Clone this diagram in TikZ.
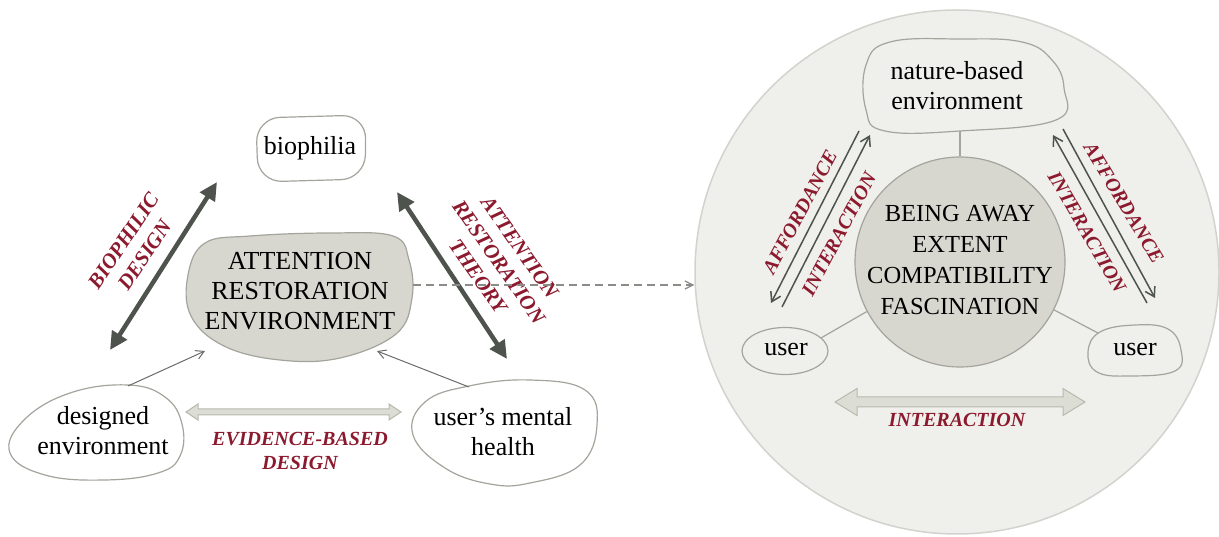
\documentclass[tikz,border=0pt]{standalone}
\usepackage{fontspec}
\setmainfont{Liberation Serif}
\usetikzlibrary{arrows.meta,calc,shapes.geometric}

\definecolor{labelred}{HTML}{8C1A2E}
\definecolor{arrowgray}{HTML}{4E534D}
\definecolor{blobline}{HTML}{A3A49C}
\definecolor{arefill}{HTML}{D7D7CF}
\definecolor{ringfill}{HTML}{EFF0EC}
\definecolor{ringline}{HTML}{D2D3CD}
\definecolor{hollowfill}{HTML}{DCDDD4}
\definecolor{hollowline}{HTML}{B8BAAD}
\definecolor{dashgray}{HTML}{8A8C88}

\tikzset{
  blob/.style={draw=blobline, line width=1.2pt},
  txt/.style={align=center, inner sep=0pt, font=\fontsize{26}{30}\selectfont},
  coretxt/.style={align=center, inner sep=0pt, font=\fontsize{24.5}{31}\selectfont},
  lbl/.style={text=labelred, align=center, inner sep=0pt,
              font=\fontsize{20}{24}\selectfont\bfseries\itshape},
  biglbl/.style={lbl, font=\fontsize{21}{25.5}\selectfont\bfseries\itshape},
  heavyarrow/.style={draw=arrowgray, line width=4.5pt,
     {Triangle[length=18pt,width=17pt]}-{Triangle[length=18pt,width=17pt]}},
  pairarrow/.style={draw=arrowgray, line width=1.5pt,
     -{Straight Barb[length=9pt,width=11pt]}},
  feedarrow/.style={draw=arrowgray!85, line width=1pt,
     -{Straight Barb[length=8pt,width=9pt]}},
  link/.style={draw=blobline, line width=1.2pt},
  hollow/.style={fill=hollowfill, draw=hollowline, line width=1pt, line join=miter},
}

\begin{document}
\begin{tikzpicture}[x=1pt, y=-1pt]
\useasboundingbox (0,0) rectangle (1219,537);

% ---------- right panel: the restorative setting ----------
\node[circle, minimum size=524pt, inner sep=0pt, fill=ringfill, draw=ringline,
      line width=1.5pt] (ring) at (957,272) {};

% nature-based environment
\draw[blob, fill=ringfill] plot[smooth cycle, tension=0.7] coordinates
  {(890,42) (960,39) (1022,42) (1052,60) (1064,88) (1056,120) (960,131)
   (885,131) (866,110) (866,65)};
\node[txt] (nature) at (957,86) {nature-based\\environment};

% core circle with the four components
\node[circle, minimum size=210pt, inner sep=0pt, fill=arefill, draw=blobline,
      line width=1.2pt] (core) at (960,262) {};
\node[coretxt] (coretxt) at (960,260) {BEING AWAY\\EXTENT\\COMPATIBILITY\\FASCINATION};

% users
\node[ellipse, minimum width=86pt, minimum height=47pt, inner sep=0pt,
      fill=ringfill, draw=blobline, line width=1.2pt] (userL) at (785,351) {};
\node[txt] (userLtxt) at (786,350) {user};
\draw[blob, fill=ringfill] plot[smooth cycle, tension=0.7] coordinates
  {(1100,332) (1135,325) (1168,329) (1181,350) (1175,371) (1130,376)
   (1097,372) (1088,352)};
\node[txt] (userRtxt) at (1135,350) {user};

% plain links
\coordinate (natureB) at (960,131);
\coordinate (userRtop) at (1098,333);
\draw[link] (natureB) -- (core.north);
\draw[link] (core.208) -- (userL.20);
\draw[link] (core.-27) -- (userRtop);

% affordance / interaction pairs
\coordinate (pLa1) at (859,131); \coordinate (pLa2) at (771,303);
\coordinate (pLb1) at (782,307); \coordinate (pLb2) at (870,135);
\coordinate (pRa1) at (1147,303); \coordinate (pRa2) at (1053,135);
\coordinate (pRb1) at (1063,129); \coordinate (pRb2) at (1155,298);
\draw[pairarrow] (pLa1) -- (pLa2);
\draw[pairarrow] (pLb1) -- (pLb2);
\draw[pairarrow] (pRa1) -- (pRa2);
\draw[pairarrow] (pRb1) -- (pRb2);
\node[lbl, rotate=62] (affL) at (800,212) {AFFORDANCE};
\node[lbl, rotate=62] (intL) at (839,234) {INTERACTION};
\node[lbl, rotate=-59] (affR) at (1124,203) {AFFORDANCE};
\node[lbl, rotate=-60] (intR) at (1087,232) {INTERACTION};

% user-to-user interaction
\draw[hollow] (835,402) -- (857,388.5) -- (857,397) -- (1063,397) -- (1063,388.5)
  -- (1085,402) -- (1063,415.5) -- (1063,407) -- (857,407) -- (857,415.5) -- cycle;
\node[lbl] (intB) at (957,420) {INTERACTION};

% ---------- left panel: the framework ----------
% biophilia
\draw[blob, fill=white, rounded corners=24pt]
  (256,118) -- (366,115) -- (365,179) -- (258,182) -- cycle;
\node[txt] (bio) at (310,148) {biophilia};

% attention restoration environment
\draw[blob, fill=arefill] plot[smooth cycle, tension=0.65] coordinates
  {(205,243) (250,236) (330,233) (393,236) (409,260) (412,298) (396,334)
   (340,358) (280,360) (224,346) (191,316) (188,275)};
\node[txt] (are) at (300,291) {ATTENTION\\RESTORATION\\ENVIRONMENT};

% designed environment
\draw[blob, fill=white] plot[smooth cycle, tension=0.7] coordinates
  {(128,385) (165,397) (182,424) (180,456) (158,473) (105,480) (45,475)
   (10,453) (24,420) (70,393)};
\node[txt] (des) at (103,431) {designed\\environment};

% user's mental health
\draw[blob, fill=white] plot[smooth cycle, tension=0.7] coordinates
  {(469,386) (530,380) (585,390) (597,425) (580,465) (530,483) (490,484)
   (445,468) (413,435) (425,402)};
\node[txt] (umh) at (503,432) {user’s mental\\health};

% heavy double arrows and their labels
\coordinate (bdTop) at (217,182); \coordinate (bdBot) at (110,350);
\coordinate (artTop) at (397,192); \coordinate (artBot) at (507,359);
\draw[heavyarrow] (bdTop) -- (bdBot);
\draw[heavyarrow] (artTop) -- (artBot);
\node[biglbl, rotate=56] (bdlbl) at (134,248) {BIOPHILIC\\DESIGN};
\node[biglbl, rotate=-55] (artlbl) at (499,262) {ATTENTION\\RESTORATION\\THEORY};

% feeds into the restoration environment
\coordinate (desTop) at (128,386); \coordinate (areSW) at (205,351);
\coordinate (umhTop) at (469,387); \coordinate (areSE) at (377,351);
\draw[feedarrow] (desTop) -- (areSW);
\draw[feedarrow] (umhTop) -- (areSE);

% evidence-based design
\draw[hollow] (186,412) -- (198,404) -- (198,409) -- (389,409) -- (389,404)
  -- (401,412) -- (389,420) -- (389,415) -- (198,415) -- (198,420) -- cycle;
\node[lbl] (ebd) at (300,451) {EVIDENCE-BASED\\DESIGN};

% link between the two panels
\coordinate (areE) at (413,285);
\draw[draw=dashgray, line width=1.2pt, dash pattern=on 8pt off 5pt,
      -{Straight Barb[length=8pt,width=8pt]}] (areE) -- (areE -| ring.west);
\end{tikzpicture}
\end{document}
